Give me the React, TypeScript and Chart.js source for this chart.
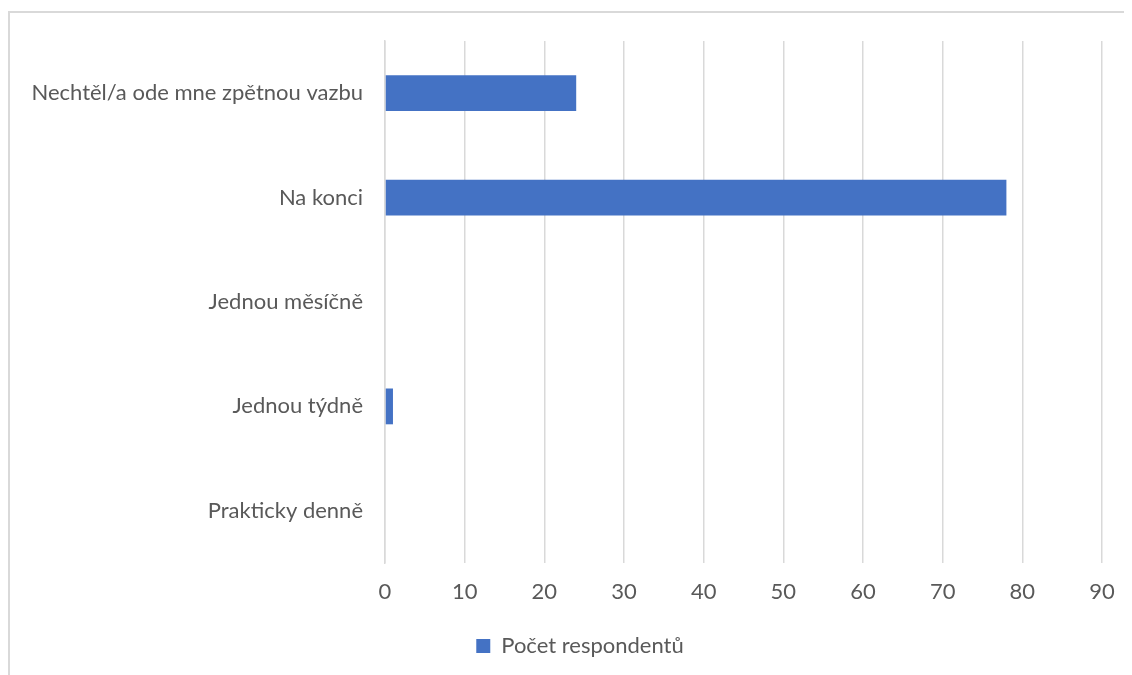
import React, { useEffect, useRef } from "react";
import { Chart, registerables } from "chart.js";

Chart.register(...registerables);

const categories = [
  "Nechtěl/a ode mne zpětnou vazbu",
  "Na konci",
  "Jednou měsíčně",
  "Jednou týdně",
  "Prakticky denně",
];
const values = [24, 78, 0, 1, 0];
const seriesLabel = "Počet respondentů";
const xMin = 0;
const xMax = 90;
const xStep = 10;

const FONT = "Lato, 'Open Sans', sans-serif";

const legendShift = {
  id: "legendShift",
  afterLayout(chart: any) {
    if (chart.legend) {
      chart.legend.left += 24;
      chart.legend.right += 24;
    }
  },
};

export default function App() {
  const ref = useRef<HTMLCanvasElement | null>(null);
  useEffect(() => {
    if (!ref.current) return;
    const chart = new Chart(ref.current, {
      type: "bar",
      data: {
        labels: categories,
        datasets: [
          {
            label: seriesLabel,
            data: values,
            backgroundColor: "#4472c4",
            borderWidth: 0,
            categoryPercentage: 1,
            barPercentage: 0.343,
          },
        ],
      },
      plugins: [legendShift],
      options: {
        indexAxis: "y",
        animation: false,
        responsive: false,
        maintainAspectRatio: false,
        layout: { padding: { top: 28, right: 30, left: 0, bottom: 8 } },
        plugins: {
          legend: {
            position: "bottom",
            labels: {
              font: { family: FONT, size: 22 },
              color: "#595959",
              boxWidth: 14,
              boxHeight: 14,
              padding: 14,
            },
          },
          tooltip: { enabled: false },
        },
        scales: {
          x: {
            min: xMin,
            max: xMax,
            ticks: {
              stepSize: xStep,
              font: { family: FONT, size: 22 },
              color: "#595959",
              padding: 16,
            },
            grid: { color: "#d9d9d9", lineWidth: 1.5, drawTicks: false },
            border: { display: false },
            afterFit: (s: any) => {
              s.height = 58;
              s.paddingLeft = 0;
              s.paddingRight = 0;
            },
          },
          y: {
            ticks: {
              font: { family: FONT, size: 22 },
              color: "#595959",
              padding: 22,
            },
            grid: { display: false, drawTicks: false },
            border: { display: true, color: "#d9d9d9", width: 1.5 },
            afterFit: (s: any) => {
              s.width = 375;
              s.paddingTop = 0;
              s.paddingBottom = 0;
            },
          },
        },
      },
    });
    return () => chart.destroy();
  }, []);
  return (
    <div
      style={{
        marginTop: 3,
        borderTop: "2px solid #d9d9d9",
        borderLeft: "2px solid #d9d9d9",
        width: 1122,
        height: 662,
        overflow: "hidden",
      }}
    >
      <canvas ref={ref} width={1122} height={662} style={{ display: "block" }} />
    </div>
  );
}
